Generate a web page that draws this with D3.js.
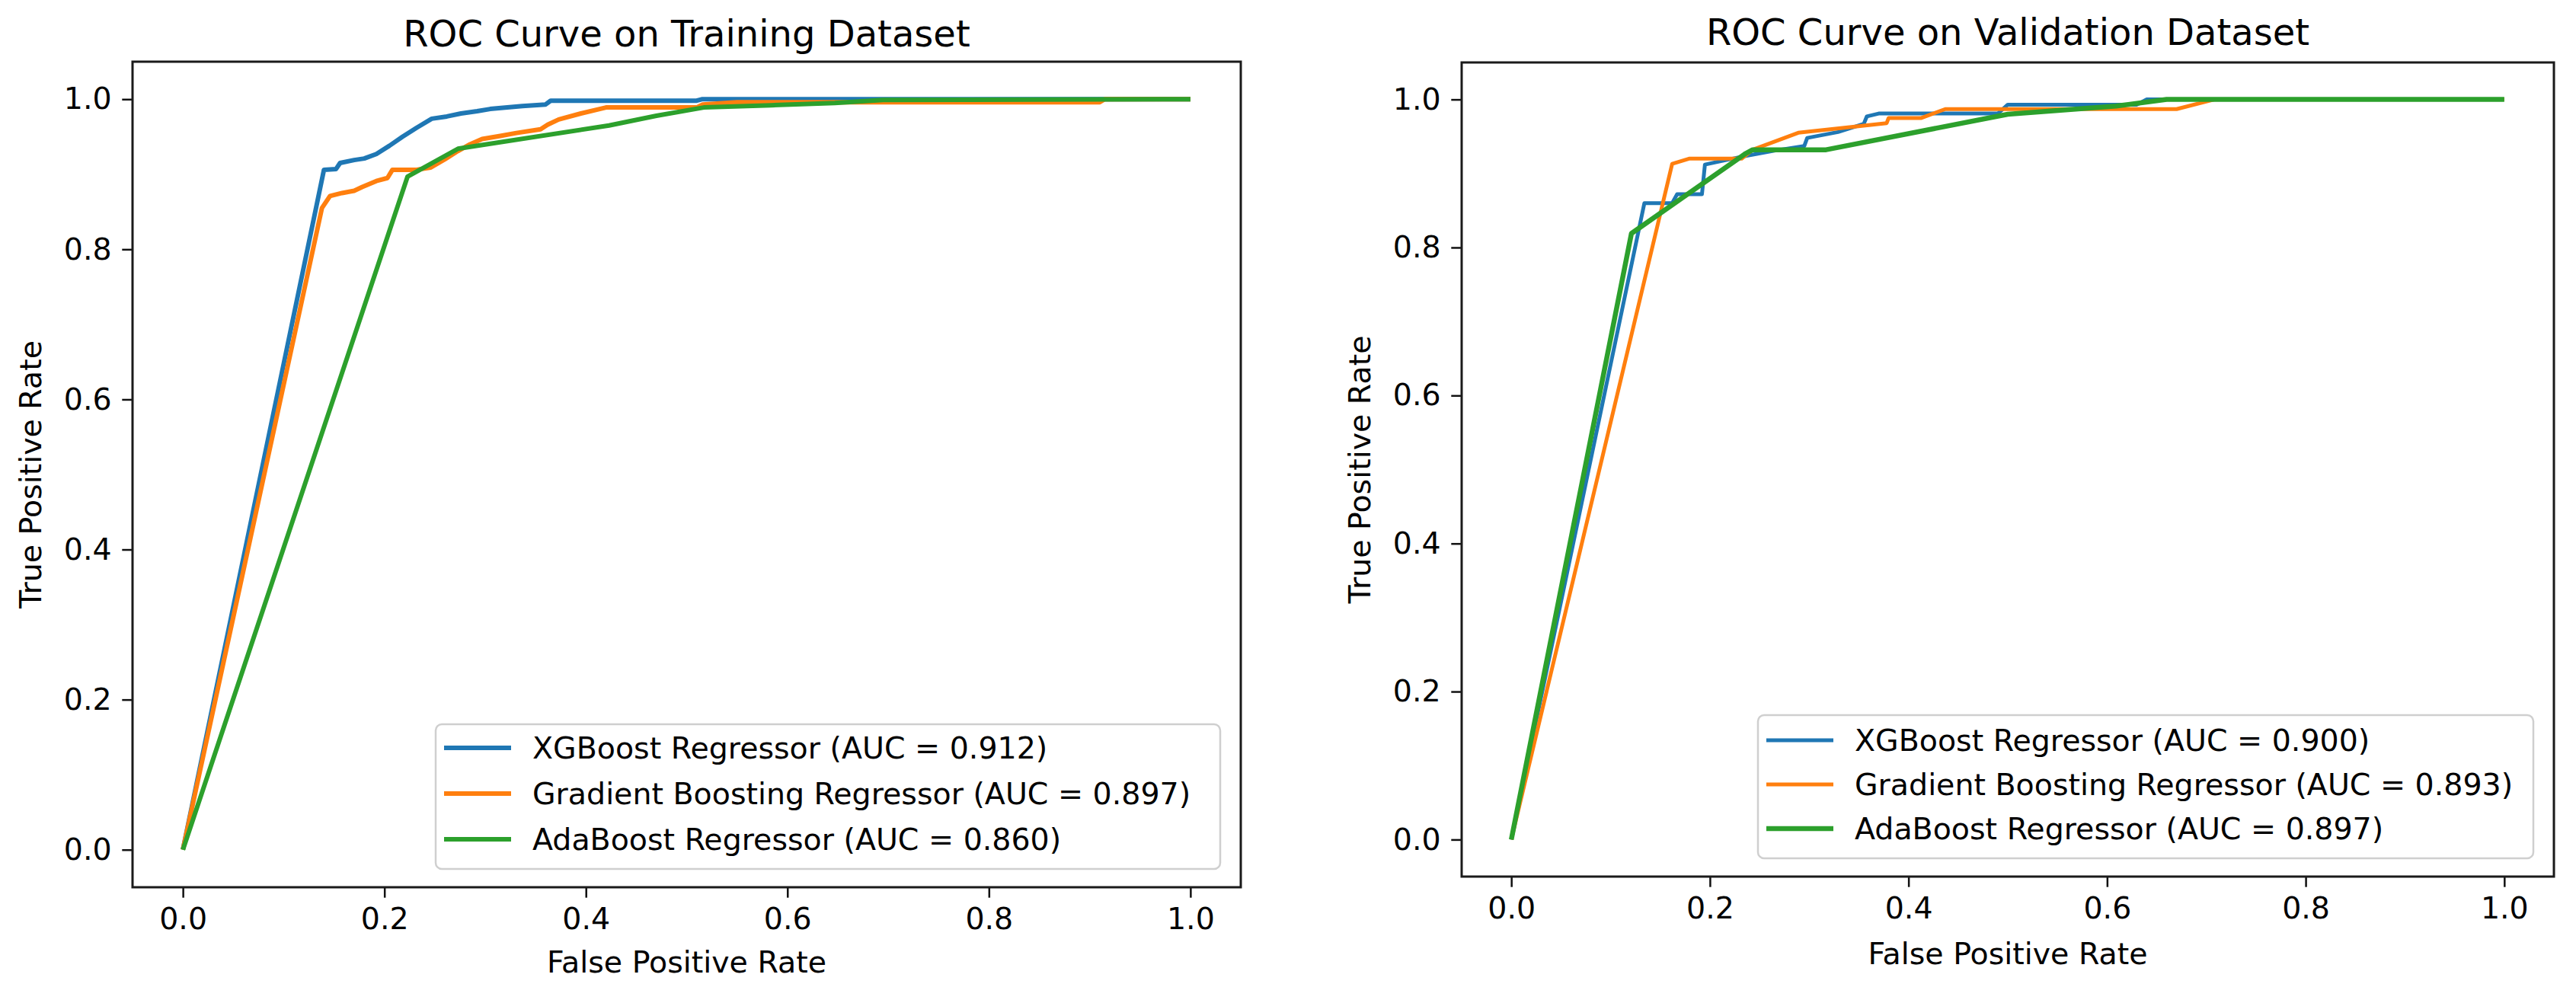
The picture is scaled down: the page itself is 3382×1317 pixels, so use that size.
<!DOCTYPE html>
<html>
<head>
<meta charset="utf-8">
<script src="https://cdn.jsdelivr.net/npm/d3@7"></script>
<style>
body { margin: 0; background: #fff; }
text { font-family: "DejaVu Sans", sans-serif; fill: #000; }
</style>
</head>
<body>
<div id="chart"></div>
<script>
var models = ["XGBoost Regressor", "Gradient Boosting Regressor", "AdaBoost Regressor"];
var colors = ["#1f77b4", "#ff7f0e", "#2ca02c"];
var aucTrain = ["0.912", "0.897", "0.860"];
var aucVal = ["0.900", "0.893", "0.897"];
var tickValues = [0, 0.2, 0.4, 0.6, 0.8, 1.0];
var tickLabels = ["0.0", "0.2", "0.4", "0.6", "0.8", "1.0"];

// [fpr, tpr]
var trainXgb = [[0,0],[0.140,0.906],[0.152,0.907],[0.156,0.915],[0.170,0.919],[0.180,0.921],[0.192,0.927],
    [0.205,0.938],[0.218,0.950],[0.232,0.962],[0.247,0.974],[0.262,0.977],[0.276,0.981],[0.292,0.984],
    [0.305,0.987],[0.322,0.989],[0.337,0.991],[0.360,0.993],[0.365,0.998],[0.510,0.998],[0.515,1.0],[1,1]];
var trainGbr = [[0,0],[0.138,0.855],[0.146,0.871],[0.158,0.875],[0.170,0.878],[0.178,0.883],[0.192,0.891],
    [0.203,0.895],[0.208,0.906],[0.232,0.906],[0.246,0.909],[0.260,0.920],[0.273,0.931],[0.285,0.940],
    [0.297,0.947],[0.315,0.951],[0.331,0.955],[0.355,0.960],[0.362,0.966],[0.373,0.973],[0.395,0.981],
    [0.420,0.989],[0.510,0.989],[0.516,0.993],[0.550,0.996],[0.910,0.996],[0.915,1.0],[1,1]];
var trainAda = [[0,0],[0.223,0.897],[0.273,0.934],[0.423,0.965],[0.470,0.978],[0.517,0.989],[0.584,0.992],
    [0.647,0.995],[0.695,0.999],[1,1]];

var valXgb = [[0,0],[0.134,0.860],[0.162,0.860],[0.167,0.872],[0.192,0.872],[0.195,0.912],[0.202,0.914],
    [0.237,0.924],[0.266,0.931],[0.295,0.937],[0.298,0.948],[0.329,0.956],[0.355,0.967],[0.358,0.977],
    [0.370,0.981],[0.490,0.981],[0.500,0.993],[0.630,0.993],[0.640,1.0],[1,1]];
var valGbr = [[0,0],[0.162,0.913],[0.179,0.920],[0.232,0.920],[0.243,0.932],[0.289,0.955],[0.330,0.961],
    [0.378,0.968],[0.380,0.975],[0.413,0.975],[0.437,0.987],[0.670,0.987],[0.708,1.0],[1,1]];
var valAda = [[0,0],[0.121,0.819],[0.236,0.927],[0.243,0.932],[0.317,0.932],[0.500,0.980],[0.609,0.991],
    [0.660,1.0],[1,1]];

var width = 3382,
    height = 1317,
    fontSize = 39.5,
    tickLen = 13.7;

var panels = [
    {title: "ROC Curve on Training Dataset", series: [trainXgb, trainGbr, trainAda], auc: aucTrain,
     left: 174, right: 1629, top: 81, bottom: 1165, widths: [6, 6, 6],
     legW: 1030, legH: 190, legRow: 60, legFirst: 31, xlabOff: 112, titleOff: 20},
    {title: "ROC Curve on Validation Dataset", series: [valXgb, valGbr, valAda], auc: aucVal,
     left: 1919, right: 3353, top: 82, bottom: 1151, widths: [5, 5, 6.5],
     legW: 1018, legH: 188, legRow: 58, legFirst: 33, xlabOff: 115, titleOff: 23}
];

var svg = d3.select('#chart')
    .append('svg')
    .attr('width', width)
    .attr('height', height);

svg.append('rect').attr('width', width).attr('height', height).attr('fill', '#fff');

panels.forEach(function (p) {
    var x = d3.scaleLinear().domain([-0.05, 1.05]).range([p.left, p.right]);
    var y = d3.scaleLinear().domain([-0.05, 1.05]).range([p.bottom, p.top]);
    var g = svg.append('g');

    var xAxis = g.append('g')
        .attr('transform', 'translate(0,' + p.bottom + ')')
        .call(d3.axisBottom(x).tickValues(tickValues)
            .tickFormat(function (d, i) { return tickLabels[i]; })
            .tickSize(tickLen).tickPadding(tickLen));
    var yAxis = g.append('g')
        .attr('transform', 'translate(' + p.left + ',0)')
        .call(d3.axisLeft(y).tickValues(tickValues)
            .tickFormat(function (d, i) { return tickLabels[i]; })
            .tickSize(tickLen).tickPadding(tickLen));
    [xAxis, yAxis].forEach(function (a) {
        a.select('.domain').remove();
        a.selectAll('line').attr('stroke', '#111').attr('stroke-width', 2.5);
        a.selectAll('text').attr('font-size', fontSize).attr('font-family', '"DejaVu Sans", sans-serif');
    });

    var line = d3.line()
        .x(function (d) { return x(d[0]); })
        .y(function (d) { return y(d[1]); });

    g.append('g')
        .selectAll('path')
        .data(p.series)
        .enter()
        .append('path')
        .attr('d', line)
        .attr('fill', 'none')
        .attr('stroke', function (d, i) { return colors[i]; })
        .attr('stroke-width', function (d, i) { return p.widths[i]; })
        .attr('stroke-linejoin', 'round');

    g.append('rect')
        .attr('x', p.left).attr('y', p.top)
        .attr('width', p.right - p.left).attr('height', p.bottom - p.top)
        .attr('fill', 'none').attr('stroke', '#1a1a1a').attr('stroke-width', 3);

    // legend, lower right
    var lx = p.right - 27 - p.legW,
        ly = p.bottom - 24 - p.legH;
    var leg = g.append('g').attr('transform', 'translate(' + lx + ',' + ly + ')');
    leg.append('rect')
        .attr('width', p.legW).attr('height', p.legH).attr('rx', 8)
        .attr('fill', '#fff').attr('fill-opacity', 0.8)
        .attr('stroke', '#cfcfcf').attr('stroke-width', 2.5);
    var item = leg.selectAll('g.item')
        .data(models)
        .enter()
        .append('g')
        .attr('class', 'item')
        .attr('transform', function (d, i) { return 'translate(0,' + (p.legFirst + i * p.legRow) + ')'; });
    item.append('line')
        .attr('x1', 11).attr('x2', 99)
        .attr('stroke', function (d, i) { return colors[i]; })
        .attr('stroke-width', function (d, i) { return p.widths[i]; });
    item.append('text')
        .attr('x', 127).attr('dy', '0.36em')
        .attr('font-size', fontSize)
        .text(function (d, i) { return d + ' (AUC = ' + p.auc[i] + ')'; });

    g.append('text')
        .attr('x', (x(0) + x(1)) / 2).attr('y', p.top - p.titleOff)
        .attr('text-anchor', 'middle').attr('font-size', 48)
        .text(p.title);

    g.append('text')
        .attr('x', (x(0) + x(1)) / 2).attr('y', p.bottom + p.xlabOff)
        .attr('text-anchor', 'middle').attr('font-size', fontSize)
        .text('False Positive Rate');

    g.append('text')
        .attr('transform', 'translate(' + (p.left - 120) + ',' + ((p.top + p.bottom) / 2) + ') rotate(-90)')
        .attr('text-anchor', 'middle').attr('font-size', fontSize)
        .text('True Positive Rate');
});
</script>
</body>
</html>
